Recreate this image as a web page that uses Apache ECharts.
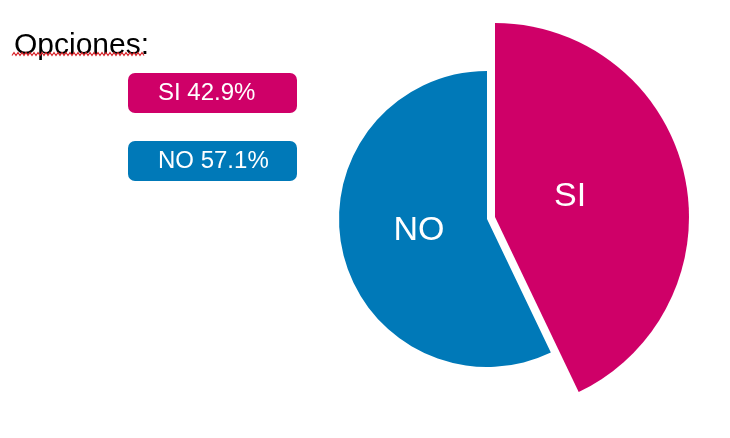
<!DOCTYPE html>
<html><head><meta charset="utf-8">
<script src="https://cdn.jsdelivr.net/npm/echarts@6/dist/echarts.min.js"></script>
<style>html,body{margin:0;padding:0;background:#fff}#c{width:730px;height:438px}</style>
</head><body><div id="c"></div>
<script>
const categories = ['SI', 'NO'];
const values = [42.9, 57.1];
const colors = ['#cf0068', '#0079b8'];
const titleText = 'Opciones:';

const chart = echarts.init(document.getElementById('c'));
const FONT = '"Liberation Sans", Arial, sans-serif';

function seriesData(showIdx) {
  return categories.map((n, i) => ({
    name: n, value: values[i],
    itemStyle: { color: i === showIdx ? colors[i] : 'rgba(0,0,0,0)' }
  }));
}

// wavy spell-check underline under the title
const zig = [];
for (let x = 12, k = 0; x <= 144; x += 2, k++) zig.push([x, k % 2 === 0 ? 55.5 : 52.5]);

const rich = {};
categories.forEach((n, i) => {
  rich['b' + i] = {
    fontFamily: FONT, fontSize: 24, color: '#fff', width: 139, height: 40,
    lineHeight: 40, align: 'left', backgroundColor: colors[i], borderRadius: 7,
    padding: [0, 0, 0, 30]
  };
});

chart.setOption({
  animation: false,
  backgroundColor: '#fff',
  title: {
    text: titleText, left: 9, top: 26,
    textStyle: { fontFamily: FONT, fontSize: 30, fontWeight: 'normal', color: '#000' }
  },
  graphic: [{
    type: 'polyline', shape: { points: zig }, silent: true, z: 100,
    style: { stroke: '#d8232a', lineWidth: 1.2, fill: null }
  }],
  legend: {
    orient: 'vertical', left: 118, top: 68, itemGap: 28,
    icon: 'rect', itemWidth: 0, itemHeight: 0, selectedMode: false,
    data: categories,
    formatter: name => {
      const i = categories.indexOf(name);
      return '{b' + i + '|' + name + ' ' + values[i].toFixed(1) + '%}';
    },
    textStyle: { fontFamily: FONT, fontSize: 24, color: '#fff', rich: rich }
  },
  series: [
    {
      type: 'pie', center: [487, 219], radius: [0, 148], startAngle: 90, clockwise: true,
      silent: true, label: { show: false }, labelLine: { show: false },
      data: seriesData(1), legendHoverLink: false
    },
    {
      type: 'pie', center: [495, 217], radius: [0, 194], startAngle: 90, clockwise: true,
      silent: true, label: { show: false }, labelLine: { show: false },
      data: seriesData(0), legendHoverLink: false
    },
    {
      type: 'pie', center: [494.5, 213.5], radius: [0, 149], startAngle: 90, clockwise: true,
      silent: true, labelLine: { show: false },
      itemStyle: { color: 'rgba(0,0,0,0)' },
      label: { show: true, position: 'inside', formatter: '{b}', fontFamily: FONT, fontSize: 34, color: '#fff' },
      data: categories.map((n, i) => ({ name: n, value: values[i] }))
    }
  ]
});
</script></body></html>
